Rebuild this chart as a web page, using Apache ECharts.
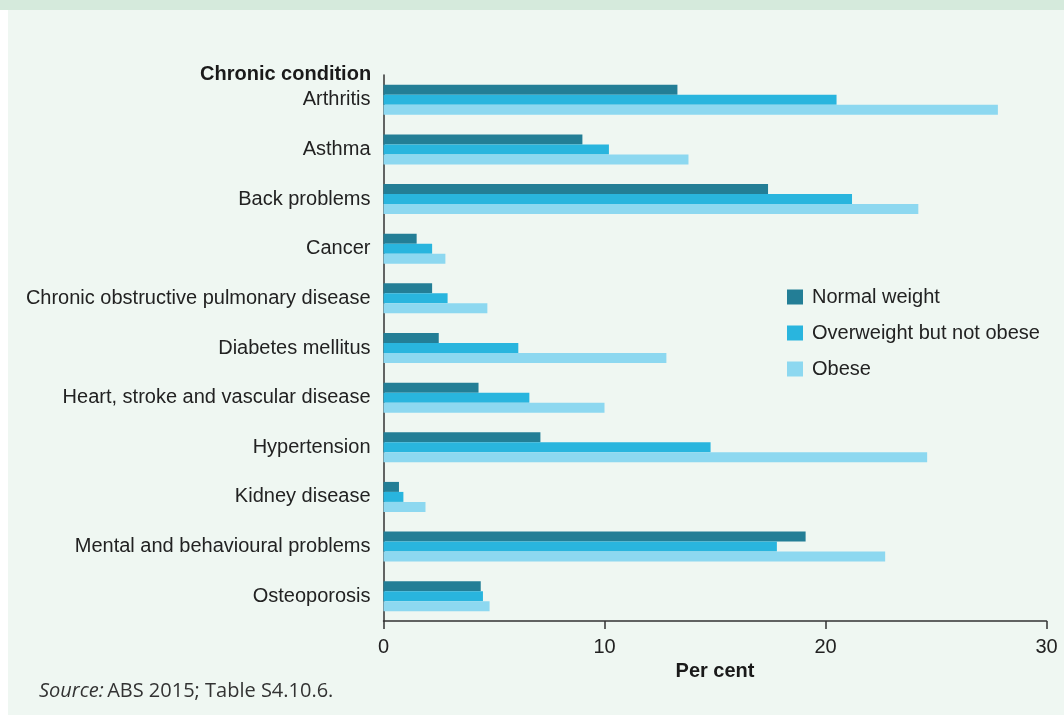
<!DOCTYPE html>
<html>
<head>
<meta charset="utf-8">
<style>
  html, body { margin: 0; padding: 0; background: #ffffff; }
  #chart { width: 1064px; height: 716px; }
</style>
<script src="https://cdn.jsdelivr.net/npm/echarts@6/dist/echarts.min.js"></script>
</head>
<body>
<div id="chart"></div>
<script>
// Chronic conditions by body weight status, per cent
const conditions = [
  'Arthritis',
  'Asthma',
  'Back problems',
  'Cancer',
  'Chronic obstructive pulmonary disease',
  'Diabetes mellitus',
  'Heart, stroke and vascular disease',
  'Hypertension',
  'Kidney disease',
  'Mental and behavioural problems',
  'Osteoporosis'
];
const normalWeight = [13.3, 9.0, 17.4, 1.5, 2.2, 2.5, 4.3, 7.1, 0.7, 19.1, 4.4];
const overweight   = [20.5, 10.2, 21.2, 2.2, 2.9, 6.1, 6.6, 14.8, 0.9, 17.8, 4.5];
const obese        = [27.8, 13.8, 24.2, 2.8, 4.7, 12.8, 10.0, 24.6, 1.9, 22.7, 4.8];
const seriesNames  = ['Normal weight', 'Overweight but not obese', 'Obese'];
const xTicks       = [0, 10, 20, 30];

const colors = ['#237e96', '#29b5de', '#8dd8f0'];
const FONT = '"Liberation Sans", Arial, sans-serif';

const chart = echarts.init(document.getElementById('chart'), null, { renderer: 'canvas' });

const seriesData = [normalWeight, overweight, obese];

chart.setOption({
  animation: false,
  backgroundColor: 'transparent',
  color: colors,
  textStyle: { fontFamily: FONT },
  graphic: [
    { type: 'rect', silent: true, z: -10, shape: { x: 8, y: 0, width: 1056, height: 715 }, style: { fill: '#eff7f2' } },
    { type: 'rect', silent: true, z: -9, shape: { x: 0, y: 0, width: 1064, height: 10 }, style: { fill: '#d5eadc' } },
    {
      type: 'text', left: 200, top: 64,
      style: { text: 'Chronic condition', font: 'bold 20px ' + FONT, fill: '#1a1a1a' }
    },
    {
      type: 'text', left: 39, top: 681,
      style: {
        text: '{i|Source:} {n|ABS 2015; Table S4.10.6.}',
        rich: {
          i: { fontFamily: '"Open Sans", sans-serif', fontStyle: 'italic', fontSize: 20, fill: '#333' },
          n: { fontFamily: '"Open Sans", sans-serif', fontSize: 20, fill: '#333' }
        }
      }
    }
  ],
  grid: { left: 383.5, right: 17.5, top: 75, bottom: 95 },
  legend: {
    orient: 'vertical',
    left: 787, top: 287,
    padding: 0,
    itemWidth: 16, itemHeight: 15,
    itemGap: 16,
    icon: 'rect',
    data: seriesNames,
    textStyle: { fontFamily: FONT, fontSize: 20, color: '#222', padding: [0, 0, 0, 4] }
  },
  xAxis: {
    type: 'value',
    min: xTicks[0], max: xTicks[xTicks.length - 1], interval: 10,
    name: 'Per cent',
    nameLocation: 'middle',
    nameGap: 40,
    nameTextStyle: { fontFamily: FONT, fontSize: 20, fontWeight: 'bold', color: '#1a1a1a' },
    axisLine: { show: true, lineStyle: { color: '#333', width: 1.5 } },
    axisTick: { show: true, length: 8, lineStyle: { color: '#333', width: 1.5 } },
    axisLabel: { fontFamily: FONT, fontSize: 20, color: '#222', margin: 16 },
    splitLine: { show: false }
  },
  yAxis: {
    type: 'category',
    data: conditions,
    inverse: true,
    axisLine: { show: true, lineStyle: { color: '#333', width: 1.5 } },
    axisTick: { show: false },
    axisLabel: { fontFamily: FONT, fontSize: 20, color: '#222', margin: 13 }
  },
  series: seriesNames.map((name, i) => ({
    name: name,
    type: 'bar',
    data: seriesData[i],
    barWidth: 10,
    barGap: '0%',
    itemStyle: { color: colors[i] }
  }))
});
</script>
</body>
</html>
